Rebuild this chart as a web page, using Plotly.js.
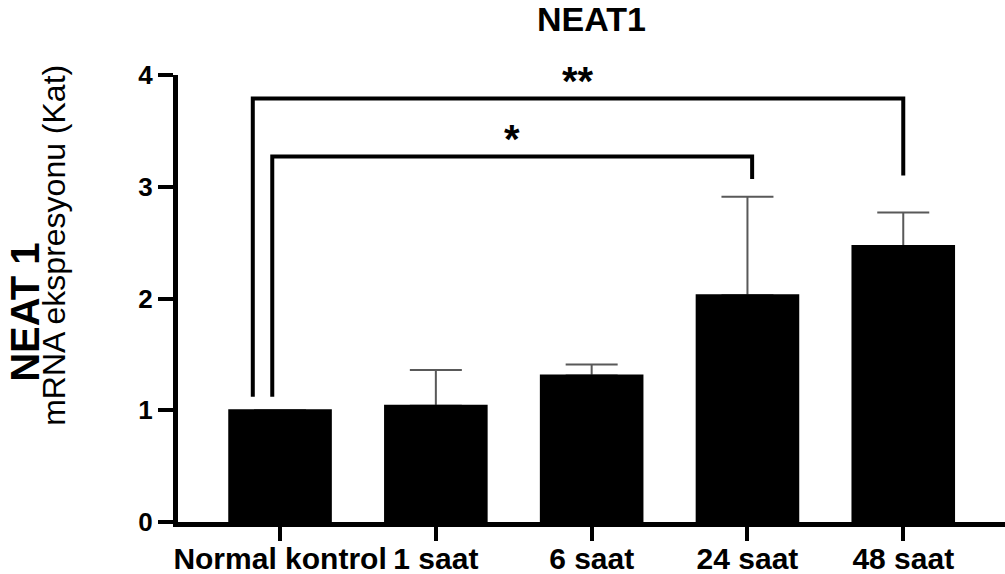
<!DOCTYPE html>
<html>
<head>
<meta charset="utf-8">
<script src="https://cdn.plot.ly/plotly-3.0.1.min.js"></script>
<style>html,body{margin:0;padding:0;background:#fff;}#chart{width:1005px;height:574px;}</style>
</head>
<body>
<div id="chart"></div>
<script>
// ---- data ----
var categories = ["Normal kontrol", "1 saat", "6 saat", "24 saat", "48 saat"];
var meanValues = [1.00, 1.04, 1.31, 2.03, 2.47];
var errorUp = [null, 0.32, 0.10, 0.88, 0.30];
var yTickValues = [0, 1, 2, 3, 4];
var yTickLabels = ["0", "1", "2", "3", "4"];

// significance comparisons (x in category index units, y in data units)
var sigLeftX = [-0.175, -0.05];
var sigRightX = [4.0, 3.03];
var sigTopY = [3.79, 3.27];
var sigLeftEndY = [1.12, 1.12];
var sigRightEndY = [3.10, 3.07];
var sigLabels = ["**", "*"];
var sigLabelY = [3.95, 3.43];

var FONT = "Liberation Sans, Arial, Helvetica, sans-serif";

// error bars drawn by an invisible bar trace underneath, so the lower cap is hidden
var errTrace = {
  type: "bar",
  x: categories,
  y: meanValues,
  width: 0.652,
  marker: {color: "rgba(0,0,0,0)", line: {width: 0}},
  error_y: {
    type: "data",
    symmetric: false,
    array: errorUp,
    arrayminus: errorUp.map(function(){return 0;}),
    color: "#595959",
    thickness: 2,
    width: 26
  },
  hoverinfo: "skip"
};
var barTrace = {
  type: "bar",
  x: categories,
  y: meanValues,
  width: 0.652,
  marker: {color: "#000000", line: {color: "#000000", width: 2}},
  hoverinfo: "skip"
};

var shapes = [];
var annotations = [];
for (var i = 0; i < sigLabels.length; i++) {
  shapes.push({
    type: "path", xref: "x", yref: "y",
    path: "M " + sigLeftX[i] + "," + sigLeftEndY[i] +
          " L " + sigLeftX[i] + "," + sigTopY[i] +
          " L " + sigRightX[i] + "," + sigTopY[i] +
          " L " + sigRightX[i] + "," + sigRightEndY[i],
    line: {color: "#000000", width: 4}
  });
  annotations.push({
    xref: "x", yref: "y",
    x: (sigLeftX[i] + sigRightX[i]) / 2, y: sigLabelY[i],
    text: sigLabels[i], showarrow: false,
    xanchor: "center", yanchor: "middle",
    font: {family: FONT, size: 40, color: "#000000", weight: "bold"}
  });
}
annotations.push({
  xref: "paper", yref: "paper", x: -0.185, y: 0.468,
  xanchor: "center", yanchor: "middle", textangle: -90,
  text: "<b>NEAT 1</b>", showarrow: false,
  font: {family: FONT, size: 40, color: "#000000"}
});
annotations.push({
  xref: "paper", yref: "paper", x: -0.15, y: 0.62,
  xanchor: "center", yanchor: "middle", textangle: -90,
  text: "mRNA ekspresyonu (Kat)", showarrow: false,
  font: {family: FONT, size: 32, color: "#000000"}
});

var layout = {
  width: 1005, height: 574,
  margin: {l: 178, r: 0, t: 75, b: 52},
  paper_bgcolor: "#ffffff", plot_bgcolor: "#ffffff",
  showlegend: false,
  barmode: "overlay",
  title: {
    text: "<b>NEAT1</b>",
    x: 0.5, xref: "paper", xanchor: "center",
    y: 0.966, yref: "container", yanchor: "middle",
    font: {family: FONT, size: 34, color: "#000000"}
  },
  xaxis: {
    type: "category",
    range: [-0.655, 4.653],
    showgrid: false, zeroline: false,
    showline: true, linecolor: "#000000", linewidth: 5,
    ticks: "outside", ticklen: 14, tickwidth: 4, tickcolor: "#000000",
    ticklabelstandoff: -8,
    tickfont: {family: FONT, size: 30, color: "#000000", weight: "bold"},
    fixedrange: true
  },
  yaxis: {
    range: [0, 4],
    tickvals: yTickValues, ticktext: yTickLabels,
    showgrid: false, zeroline: false,
    showline: true, linecolor: "#000000", linewidth: 5,
    ticks: "outside", ticklen: 15, tickwidth: 4, tickcolor: "#000000",
    tickfont: {family: FONT, size: 26, color: "#000000", weight: "bold"},
    fixedrange: true
  },
  shapes: shapes,
  annotations: annotations
};

Plotly.newPlot("chart", [errTrace, barTrace], layout, {displayModeBar: false, staticPlot: true});
</script>
</body>
</html>
